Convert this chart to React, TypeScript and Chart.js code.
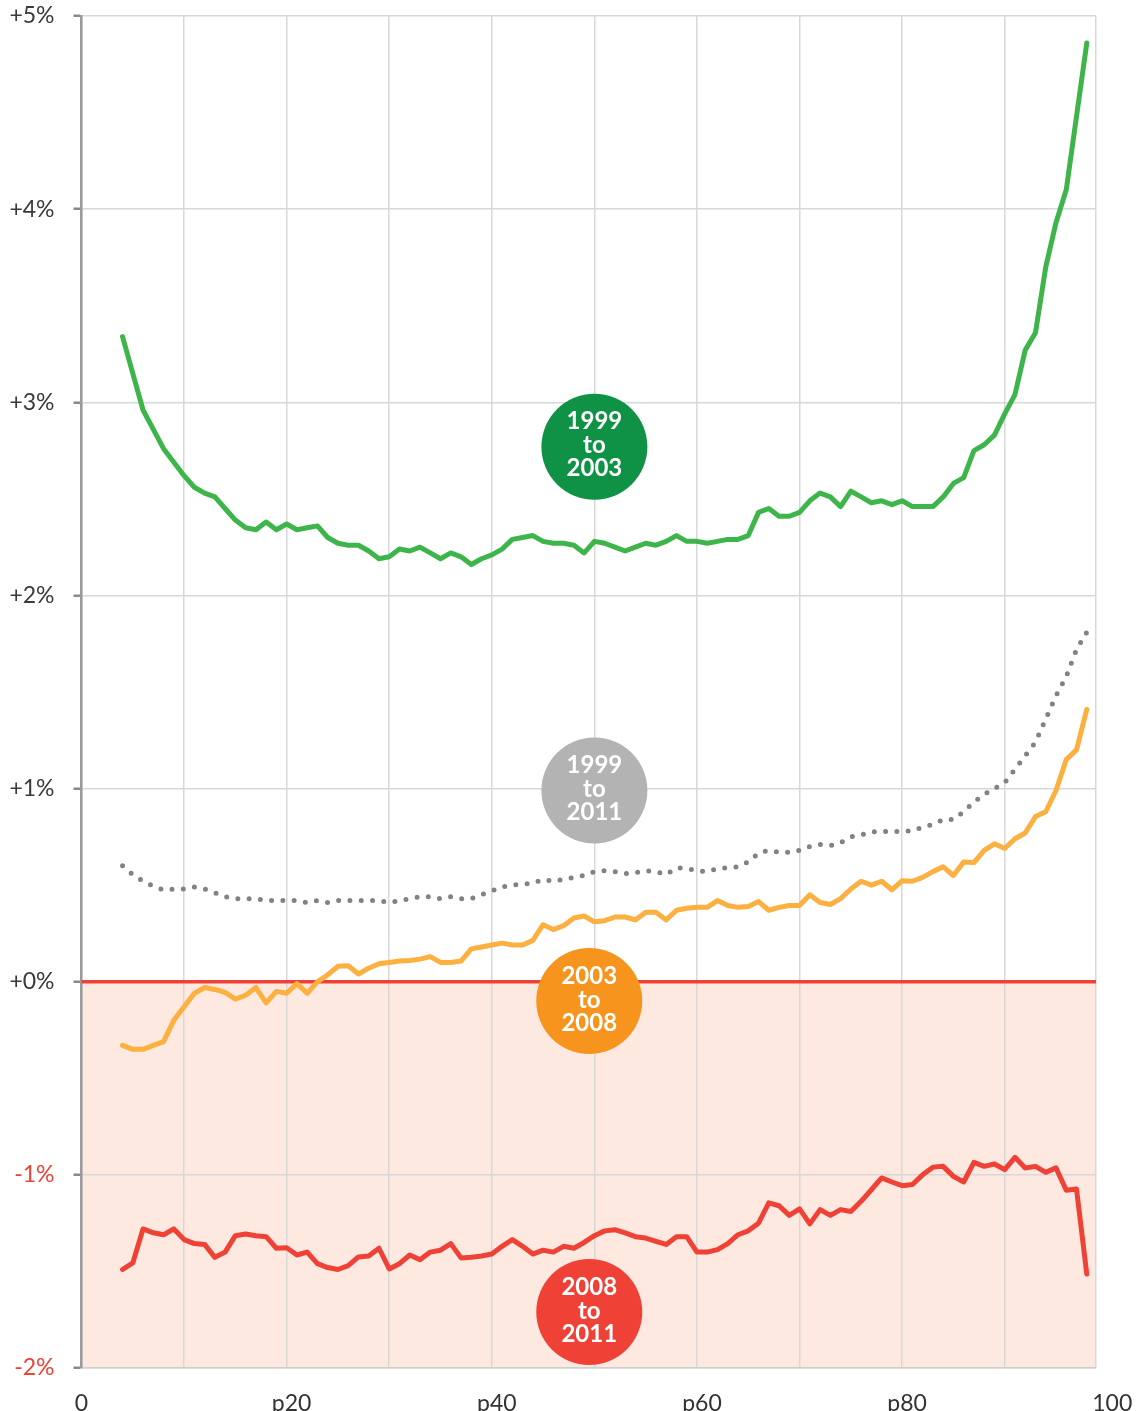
import React, { useEffect, useRef } from 'react';
import { Chart, registerables } from 'chart.js';

Chart.register(...registerables);

// Percentile of the income distribution (x axis)
const percentiles = [
  4, 5, 6, 7, 8, 9, 10, 11, 12, 13, 14, 15, 16, 17, 18, 19, 20, 21, 22, 23, 24, 25, 26, 27, 28, 29,
  30, 31, 32, 33, 34, 35, 36, 37, 38, 39, 40, 41, 42, 43, 44, 45, 46, 47, 48, 49, 50, 51, 52, 53, 54,
  55, 56, 57, 58, 59, 60, 61, 62, 63, 64, 65, 66, 67, 68, 69, 70, 71, 72, 73, 74, 75, 76, 77, 78, 79,
  80, 81, 82, 83, 84, 85, 86, 87, 88, 89, 90, 91, 92, 93, 94, 95, 96, 97, 98,
];

// Annual growth, 1999 to 2003 (%)
const growth1999to2003 = [
  3.34, 3.15, 2.96, 2.86, 2.76, 2.69, 2.62, 2.56, 2.53, 2.51, 2.45, 2.39, 2.35, 2.34, 2.38, 2.34,
  2.37, 2.34, 2.35, 2.36, 2.30, 2.27, 2.26, 2.26, 2.23, 2.19, 2.20, 2.24, 2.23, 2.25, 2.22, 2.19,
  2.22, 2.20, 2.16, 2.19, 2.21, 2.24, 2.29, 2.30, 2.31, 2.28, 2.27, 2.27, 2.26, 2.22, 2.28, 2.27,
  2.25, 2.23, 2.25, 2.27, 2.26, 2.28, 2.31, 2.28, 2.28, 2.27, 2.28, 2.29, 2.29, 2.31, 2.43, 2.45,
  2.41, 2.41, 2.43, 2.49, 2.53, 2.51, 2.46, 2.54, 2.51, 2.48, 2.49, 2.47, 2.49, 2.46, 2.46, 2.46,
  2.51, 2.58, 2.61, 2.75, 2.78, 2.83, 2.94, 3.04, 3.27, 3.36, 3.70, 3.93, 4.10, 4.48, 4.86,
];

// Annual growth, 1999 to 2011 (%)
const growth1999to2011 = [
  0.60, 0.555, 0.52, 0.495, 0.475, 0.48, 0.48, 0.49, 0.48, 0.46, 0.44, 0.43, 0.43, 0.43, 0.42, 0.42,
  0.42, 0.42, 0.41, 0.42, 0.41, 0.42, 0.42, 0.42, 0.42, 0.42, 0.41, 0.42, 0.43, 0.44, 0.44, 0.43,
  0.44, 0.43, 0.43, 0.45, 0.47, 0.49, 0.50, 0.505, 0.51, 0.53, 0.52, 0.53, 0.54, 0.55, 0.57, 0.575,
  0.57, 0.56, 0.565, 0.575, 0.57, 0.555, 0.59, 0.585, 0.575, 0.57, 0.585, 0.59, 0.595, 0.62, 0.665,
  0.68, 0.67, 0.67, 0.68, 0.70, 0.71, 0.705, 0.72, 0.75, 0.76, 0.775, 0.78, 0.775, 0.78, 0.78, 0.80,
  0.815, 0.84, 0.84, 0.88, 0.93, 0.97, 1.00, 1.03, 1.10, 1.17, 1.24, 1.36, 1.48, 1.58, 1.72, 1.81,
];

// Annual growth, 2003 to 2008 (%)
const growth2003to2008 = [
  -0.33, -0.35, -0.35, -0.33, -0.31, -0.20, -0.13, -0.06, -0.03, -0.04, -0.055, -0.09, -0.07, -0.03,
  -0.11, -0.05, -0.06, -0.01, -0.06, 0.00, 0.035, 0.08, 0.083, 0.04, 0.07, 0.093, 0.10, 0.107, 0.11,
  0.117, 0.13, 0.10, 0.10, 0.107, 0.17, 0.18, 0.19, 0.20, 0.19, 0.19, 0.214, 0.295, 0.27, 0.29, 0.33,
  0.34, 0.31, 0.316, 0.335, 0.335, 0.32, 0.36, 0.36, 0.32, 0.37, 0.38, 0.385, 0.385, 0.42, 0.395,
  0.385, 0.39, 0.415, 0.37, 0.385, 0.395, 0.395, 0.45, 0.41, 0.40, 0.43, 0.48, 0.52, 0.50, 0.52,
  0.476, 0.523, 0.52, 0.54, 0.57, 0.595, 0.55, 0.62, 0.617, 0.68, 0.714, 0.69, 0.74, 0.77, 0.855,
  0.88, 0.99, 1.15, 1.20, 1.41,
];

// Annual growth, 2008 to 2011 (%)
const growth2008to2011 = [
  -1.49, -1.456, -1.28, -1.30, -1.31, -1.28, -1.335, -1.356, -1.36, -1.427, -1.40, -1.315, -1.306,
  -1.315, -1.32, -1.38, -1.377, -1.415, -1.40, -1.46, -1.48, -1.49, -1.47, -1.425, -1.42, -1.38,
  -1.487, -1.46, -1.415, -1.44, -1.40, -1.39, -1.356, -1.43, -1.427, -1.42, -1.41, -1.37, -1.335,
  -1.37, -1.41, -1.39, -1.40, -1.37, -1.38, -1.35, -1.315, -1.29, -1.284, -1.30, -1.32, -1.327,
  -1.344, -1.36, -1.32, -1.32, -1.40, -1.40, -1.387, -1.356, -1.31, -1.29, -1.25, -1.145, -1.16,
  -1.21, -1.176, -1.254, -1.18, -1.21, -1.18, -1.19, -1.137, -1.077, -1.016, -1.037, -1.056, -1.05,
  -1.00, -0.96, -0.956, -1.008, -1.037, -0.935, -0.956, -0.944, -0.973, -0.909, -0.964, -0.956,
  -0.987, -0.964, -1.08, -1.073, -1.513,
];

// Axis settings
const xMin = 0;
const xMax = 98.9;
const xGridValues = [0, 10, 20, 30, 40, 50, 60, 70, 80, 90, 98.9];
const xLabelValues = [0, 20, 40, 60, 80, 100];
const xLabelTexts = ['0', 'p20', 'p40', 'p60', 'p80', '100'];
const yMin = -2;
const yMax = 5;

// Period bubbles (label lines, colour, anchor in data units)
const bubbleLines = [
  ['1999', 'to', '2003'],
  ['1999', 'to', '2011'],
  ['2003', 'to', '2008'],
  ['2008', 'to', '2011'],
];
const bubbleColors = ['#0f9245', '#b3b3b3', '#f7941d', '#ef4136'];
const bubbleX = [50, 50, 49.5, 49.5];
const bubbleY = [2.77, 0.99, -0.1, -1.71];

const FONT = 'Lato, "Open Sans", "DejaVu Sans", sans-serif';

const decorPlugin = {
  id: 'decor',
  beforeDraw(chart: any) {
    const { ctx, chartArea } = chart;
    const y = chart.scales.y;
    const top = y.getPixelForValue(0);
    const bottom = y.getPixelForValue(yMin);
    ctx.save();
    ctx.fillStyle = '#fde9e0';
    ctx.fillRect(chartArea.left, top, chartArea.right - chartArea.left, bottom - top);
    ctx.restore();
  },
  beforeDatasetsDraw(chart: any) {
    const { ctx, chartArea } = chart;
    const y0 = chart.scales.y.getPixelForValue(0);
    ctx.save();
    ctx.strokeStyle = '#ef4136';
    ctx.lineWidth = 3.5;
    ctx.beginPath();
    ctx.moveTo(chartArea.left, y0);
    ctx.lineTo(chartArea.right, y0);
    ctx.stroke();
    ctx.restore();
  },
  afterDatasetsDraw(chart: any) {
    const { ctx } = chart;
    const xs = chart.scales.x;
    const ys = chart.scales.y;
    ctx.save();
    bubbleLines.forEach((lines, i) => {
      const cx = xs.getPixelForValue(bubbleX[i]);
      const cy = ys.getPixelForValue(bubbleY[i]);
      ctx.beginPath();
      ctx.fillStyle = bubbleColors[i];
      ctx.arc(cx, cy, 53, 0, Math.PI * 2);
      ctx.fill();
      ctx.fillStyle = '#ffffff';
      ctx.font = `bold 24px ${FONT}`;
      ctx.textAlign = 'center';
      ctx.textBaseline = 'middle';
      const offs = [-25, -1, 22];
      lines.forEach((t, k) => ctx.fillText(t, cx, cy + offs[k]));
    });
    // x labels
    ctx.fillStyle = '#333333';
    ctx.font = `23px ${FONT}`;
    ctx.textAlign = 'center';
    ctx.textBaseline = 'middle';
    xLabelValues.forEach((v, i) => {
      ctx.fillText(xLabelTexts[i], xs.getPixelForValue(v) + (v === 0 ? 0 : 5), 1404);
    });
    ctx.restore();
  },
};

export default function App() {
  const canvasRef = useRef<HTMLCanvasElement | null>(null);

  useEffect(() => {
    if (!canvasRef.current) return;
    const chart = new Chart(canvasRef.current, {
      type: 'line',
      data: {
        datasets: [
          {
            label: '1999 to 2011',
            data: percentiles.map((p, i) => ({ x: p, y: growth1999to2011[i] })),
            borderColor: '#808285',
            borderWidth: 5,
            borderDash: [0, 11.3],
            borderCapStyle: 'round',
            pointRadius: 0,
            tension: 0,
          },
          {
            label: '2008 to 2011',
            data: percentiles.map((p, i) => ({ x: p, y: growth2008to2011[i] })),
            borderColor: '#ef4136',
            borderWidth: 5,
            borderJoinStyle: 'round',
            borderCapStyle: 'round',
            pointRadius: 0,
            tension: 0,
          },
          {
            label: '2003 to 2008',
            data: percentiles.map((p, i) => ({ x: p, y: growth2003to2008[i] })),
            borderColor: '#fbb040',
            borderWidth: 5,
            borderJoinStyle: 'round',
            borderCapStyle: 'round',
            pointRadius: 0,
            tension: 0,
          },
          {
            label: '1999 to 2003',
            data: percentiles.map((p, i) => ({ x: p, y: growth1999to2003[i] })),
            borderColor: '#3db54a',
            borderWidth: 5,
            borderJoinStyle: 'round',
            borderCapStyle: 'round',
            pointRadius: 0,
            tension: 0,
          },
        ],
      },
      options: {
        animation: false,
        responsive: false,
        devicePixelRatio: 1,
        layout: { padding: { top: 16, right: 49, left: 0, bottom: 0 } },
        plugins: { legend: { display: false }, tooltip: { enabled: false } },
        scales: {
          x: {
            type: 'linear',
            min: xMin,
            max: xMax,
            afterBuildTicks: (scale: any) => {
              scale.ticks = xGridValues.map((v) => ({ value: v }));
            },
            afterFit: (scale: any) => {
              scale.height = 43;
              scale.paddingLeft = 0;
              scale.paddingRight = 0;
            },
            ticks: { display: false },
            grid: { color: '#d8d8d8', lineWidth: 1.5, drawTicks: false },
            border: { color: '#cfcfcf', width: 1.5 },
          },
          y: {
            type: 'linear',
            min: yMin,
            max: yMax,
            afterFit: (scale: any) => {
              scale.width = 81.5;
              scale.paddingTop = 0;
              scale.paddingBottom = 0;
            },
            ticks: {
              stepSize: 1,
              padding: 19,
              font: { family: FONT, size: 23 },
              color: (ctx: any) => (ctx.tick && ctx.tick.value < 0 ? '#ef4136' : '#3a3a3a'),
              callback: (v: any) => (Number(v) < 0 ? `${v}%` : `+${v}%`),
            },
            grid: {
              color: '#d8d8d8',
              lineWidth: 1.5,
              tickLength: 8,
              tickColor: '#8a8a8a',
              tickWidth: 2.5,
            },
            border: { color: '#9a9a9a', width: 2.5 },
          },
        },
      },
      plugins: [decorPlugin],
    } as any);
    return () => chart.destroy();
  }, []);

  return (
    <div style={{ position: 'absolute', left: 0, top: 0, width: 1145, height: 1411, background: '#fff' }}>
      <canvas ref={canvasRef} width={1145} height={1411} style={{ display: 'block' }} />
    </div>
  );
}
